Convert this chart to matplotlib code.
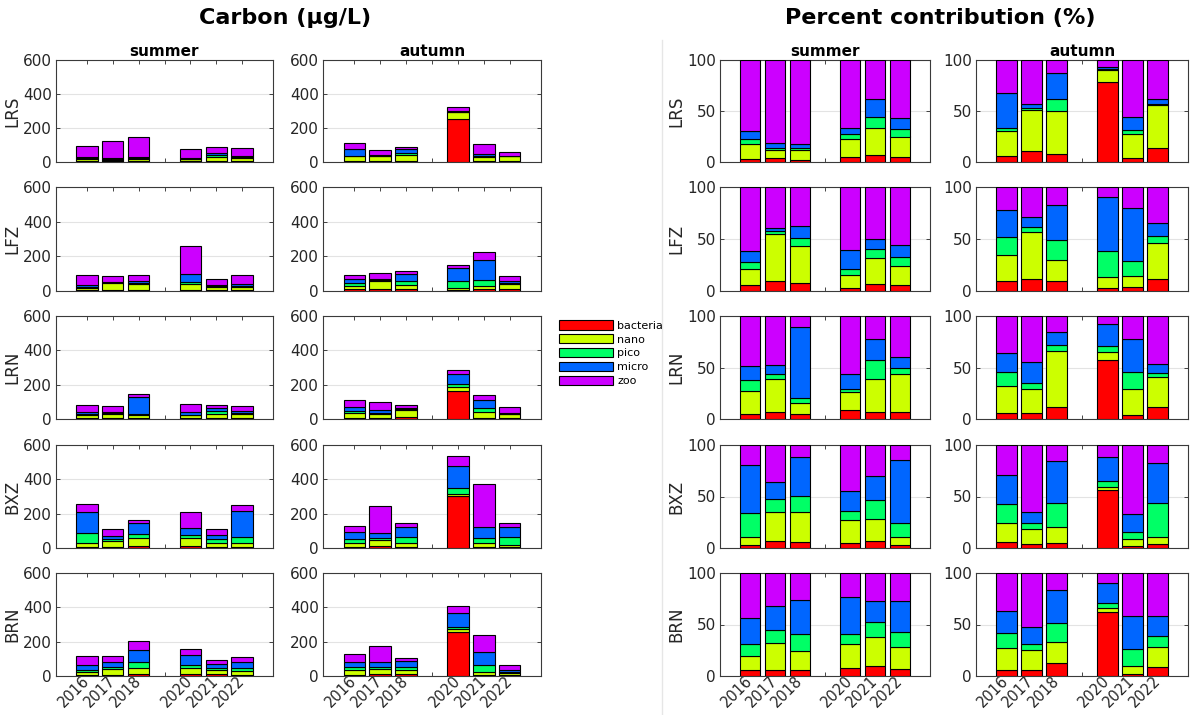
import numpy as np
import matplotlib.pyplot as plt
from matplotlib.lines import Line2D
from matplotlib.patches import Patch

years = [2016, 2017, 2018, 2020, 2021, 2022]
tick_years = [2016, 2017, 2018, 2019, 2020, 2021, 2022]
tick_labels = ['2016', '2017', '2018', '', '2020', '2021', '2022']
sites = ['LRS', 'LFZ', 'LRN', 'BXZ', 'BRN']
seasons = ['summer', 'autumn']
groups = ['bacteria', 'nano', 'pico', 'micro', 'zoo']
colors = ['#ff0000', '#ccff00', '#00ff66', '#0066ff', '#cc00ff']

# carbon (ug/L): one row per year, columns = bacteria, nano, pico, micro, zoo
LRS_summer_c = [[3, 14, 5, 6, 64], [5, 9, 3, 6, 100], [3, 14, 4, 6, 121],
                [3, 14, 3, 5, 52], [6, 23, 10, 15, 33], [4, 17, 6, 10, 47]]
LRS_autumn_c = [[7, 26, 3, 38, 35], [8, 29, 1, 3, 32], [7, 37, 10, 22, 11],
                [253, 39, 5, 5, 23], [4, 24, 5, 14, 58], [8, 25, 1, 3, 23]]
LFZ_summer_c = [[5, 14, 6, 9, 57], [8, 40, 2, 3, 34], [7, 33, 7, 11, 34],
                [8, 31, 15, 46, 157], [5, 17, 6, 7, 36], [5, 17, 7, 11, 51]]
LFZ_autumn_c = [[9, 22, 16, 23, 20], [12, 46, 5, 9, 30], [11, 24, 22, 40, 20],
                [4, 16, 37, 77, 15], [9, 22, 32, 115, 45], [10, 29, 6, 10, 29]]
LRN_summer_c = [[4, 18, 9, 10, 39], [5, 24, 4, 7, 36], [7, 16, 6, 102, 16],
                [8, 15, 3, 14, 50], [6, 25, 15, 17, 18], [5, 27, 5, 7, 30]]
LRN_autumn_c = [[6, 28, 15, 20, 39], [6, 23, 5, 21, 44], [9, 43, 4, 10, 13],
                [164, 21, 17, 60, 23], [6, 35, 23, 44, 31], [8, 20, 3, 6, 32]]
BXZ_summer_c = [[6, 21, 60, 120, 50], [8, 30, 14, 18, 38], [10, 47, 25, 61, 19],
                [10, 47, 18, 40, 92], [8, 23, 20, 25, 32], [8, 19, 35, 153, 36]]
BXZ_autumn_c = [[8, 23, 24, 37, 38], [10, 34, 15, 27, 157], [7, 22, 34, 59, 23],
                [304, 13, 32, 126, 62], [6, 26, 28, 63, 249], [6, 9, 48, 57, 25]]
BRN_summer_c = [[7, 15, 14, 28, 50], [7, 31, 15, 27, 38], [12, 37, 35, 67, 55],
                [12, 37, 15, 57, 36], [9, 26, 14, 19, 26], [8, 24, 17, 33, 31]]
BRN_autumn_c = [[8, 27, 18, 27, 47], [10, 33, 11, 28, 90], [14, 21, 19, 34, 17],
                [254, 18, 16, 80, 41], [4, 19, 39, 76, 100], [6, 12, 7, 12, 27]]

# percent contribution (%)
LRS_summer_p = [[3, 15, 5, 7, 70], [4, 7.5, 2.5, 5, 81], [2, 9.5, 2.5, 4, 82],
                [4.5, 18.5, 4, 6, 67], [6.5, 26.5, 11.5, 17, 38.5], [4.5, 20.5, 7, 11.5, 56.5]]
LRS_autumn_p = [[6, 24, 3, 35, 32], [10.5, 40, 2, 4.5, 43], [8, 42, 12, 25, 13],
                [78, 12, 1.5, 1.5, 7], [4, 23, 4.5, 13, 55.5], [14, 42, 1, 4.5, 38.5]]
LFZ_summer_p = [[5.5, 15.5, 7, 10, 62], [9.5, 45.5, 2.5, 3.5, 39], [7.5, 35.5, 7.5, 12, 37.5],
                [3, 12, 6, 18, 61], [7, 24.5, 9, 9.5, 50], [5.5, 19, 8, 12, 55.5]]
LFZ_autumn_p = [[10, 24.5, 17.5, 26, 22], [12, 45, 5, 9, 29], [9.5, 20.5, 19, 34, 17],
                [2.5, 10.5, 25, 52, 10], [4, 10, 14.5, 51.5, 20], [12, 34, 7, 12, 35]]
LRN_summer_p = [[5, 22, 11, 13, 49], [7, 32, 5, 8.5, 47.5], [5, 11, 4, 69, 11],
                [9, 17, 3, 15, 56], [7, 31.5, 18.5, 21, 22], [7, 37, 6, 10, 40]]
LRN_autumn_p = [[6, 26, 14, 18, 36], [6, 23.5, 5, 21, 44.5], [12, 54, 5.5, 12.5, 16],
                [57.5, 7.5, 6, 21, 8], [4, 25.5, 16.5, 32, 22], [12, 29, 4, 8, 47]]
BXZ_summer_p = [[2.5, 8, 23.5, 46.5, 19.5], [7, 28, 13, 16.5, 35.5], [6, 29, 15.5, 37.5, 12],
                [5, 22.5, 8.5, 19.5, 44.5], [7, 21.5, 18.5, 23, 30], [3, 7.5, 14, 61, 14.5]]
BXZ_autumn_p = [[6, 18, 18.5, 28.5, 29], [4, 14, 6, 11, 65], [5, 15, 23.5, 41, 15.5],
                [56.5, 2.5, 6, 23.5, 11.5], [1.5, 7, 7.5, 17, 67], [4, 6.5, 33, 39.5, 17]]
BRN_summer_p = [[6, 13.5, 12, 24.5, 44], [6, 26, 13, 23, 32], [6, 18, 17, 32.5, 26.5],
                [7.5, 23.5, 9.5, 36.5, 23], [9.5, 28, 14.5, 20.5, 27.5], [7, 21, 15, 29.5, 27.5]]
BRN_autumn_p = [[6, 21, 14.5, 21.5, 37], [6, 19, 6.5, 16.5, 52], [13, 20, 18, 32.5, 16.5],
                [62, 4.5, 4, 19.5, 10], [1.5, 8, 16.5, 32, 42], [9, 19, 11, 19, 42]]

carbon = {
    ('LRS', 'summer'): LRS_summer_c, ('LRS', 'autumn'): LRS_autumn_c,
    ('LFZ', 'summer'): LFZ_summer_c, ('LFZ', 'autumn'): LFZ_autumn_c,
    ('LRN', 'summer'): LRN_summer_c, ('LRN', 'autumn'): LRN_autumn_c,
    ('BXZ', 'summer'): BXZ_summer_c, ('BXZ', 'autumn'): BXZ_autumn_c,
    ('BRN', 'summer'): BRN_summer_c, ('BRN', 'autumn'): BRN_autumn_c,
}
percent = {
    ('LRS', 'summer'): LRS_summer_p, ('LRS', 'autumn'): LRS_autumn_p,
    ('LFZ', 'summer'): LFZ_summer_p, ('LFZ', 'autumn'): LFZ_autumn_p,
    ('LRN', 'summer'): LRN_summer_p, ('LRN', 'autumn'): LRN_autumn_p,
    ('BXZ', 'summer'): BXZ_summer_p, ('BXZ', 'autumn'): BXZ_autumn_p,
    ('BRN', 'summer'): BRN_summer_p, ('BRN', 'autumn'): BRN_autumn_p,
}

W, H = 1198, 715
fig = plt.figure(figsize=(W / 100, H / 100), dpi=100)
fig.patch.set_facecolor('white')

# pixel boxes of the panels
cols_c = [(56, 273), (323, 541)]
cols_p = [(720, 930), (976, 1188)]
rows = [(60, 162), (187, 291), (316, 419), (445, 548), (573, 676)]
txt = '#262626'


def add_ax(x0, x1, y0, y1):
    return fig.add_axes([x0 / W, 1 - y1 / H, (x1 - x0) / W, (y1 - y0) / H])


def draw(ax, data, ymax, yticks):
    vals = np.array(data, dtype=float)
    bottom = np.zeros(len(years))
    for k in range(len(groups)):
        ax.bar(years, vals[:, k], bottom=bottom, width=0.82, color=colors[k],
               edgecolor='black', linewidth=0.8, zorder=3)
        bottom += vals[:, k]
    ax.set_xlim(2014.8, 2023.2)
    ax.set_ylim(0, ymax)
    ax.set_yticks(yticks)
    ax.set_xticks(tick_years)
    ax.grid(axis='y', color='#e3e3e3', linewidth=0.8, zorder=0)
    ax.tick_params(direction='in', top=True, right=True, length=3, width=0.6,
                   colors=txt, labelsize=11, pad=3)
    for s in ax.spines.values():
        s.set_color('#3a3a3a')
        s.set_linewidth(0.8)


for blk, (cols, ymax, yticks) in enumerate([(cols_c, 600, [0, 200, 400, 600]),
                                            (cols_p, 100, [0, 50, 100])]):
    for r, site in enumerate(sites):
        for c, season in enumerate(seasons):
            ax = add_ax(cols[c][0], cols[c][1], rows[r][0], rows[r][1])
            data = carbon[(site, season)] if blk == 0 else percent[(site, season)]
            draw(ax, data, ymax, yticks)
            if r == 0:
                ax.set_title(season, fontsize=11, fontweight='bold', color='black', pad=3)
            if c == 0:
                ax.set_ylabel(site, fontsize=12, color=txt, labelpad=1)
            if r == len(sites) - 1:
                ax.set_xticklabels(tick_labels, rotation=45, ha='right', va='center',
                                   rotation_mode='anchor', fontsize=10.5)
                ax.tick_params(axis='x', pad=2)
            else:
                ax.set_xticklabels([])

fig.text(285 / W, 1 - 18 / H, 'Carbon (μg/L)', ha='center', va='center',
         fontsize=16, fontweight='bold')
fig.text(940 / W, 1 - 18 / H, 'Percent contribution (%)', ha='center', va='center',
         fontsize=16, fontweight='bold')

handles = [Patch(facecolor=col, edgecolor='black', linewidth=0.8) for col in colors]
fig.legend(handles, groups, loc='upper left', bbox_to_anchor=(555 / W, 1 - 316 / H),
           frameon=False, fontsize=8, handlelength=4.8, handleheight=0.9,
           labelspacing=0.3, handletextpad=0.4, borderaxespad=0)

# faint separator between the two blocks
fig.add_artist(Line2D([662 / W, 662 / W], [0, 1 - 40 / H], color='#e6e6e6', linewidth=1))

fig.savefig('out.png', dpi=100)
